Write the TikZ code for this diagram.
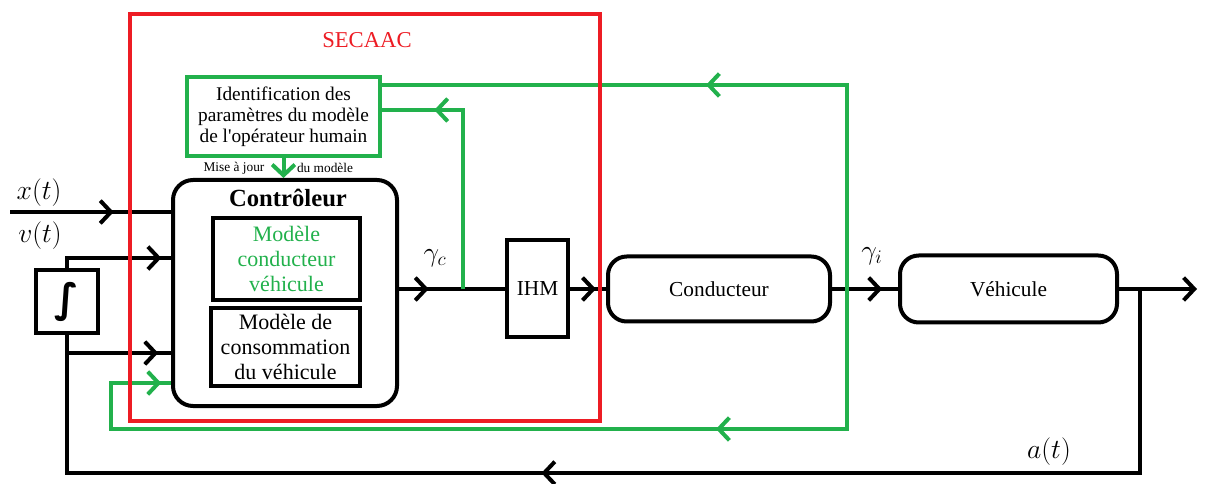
\documentclass[tikz,border=0pt]{standalone}
\usepackage{amsmath, amssymb}
\usepackage{fontspec}
\setmainfont{Liberation Serif}
\newfontfamily\intfont{DejaVu Sans}
\usepackage{xcolor}
\usetikzlibrary{arrows.meta, decorations.markings, positioning}

\definecolor{secred}{RGB}{237,28,36}
\definecolor{idgreen}{RGB}{34,177,76}

\tikzset{
  barb/.tip={Straight Barb[length=8pt,width=17pt]},
  sig/.style={line width=3pt},
  fb/.style={line width=3pt, color=idgreen},
  midarrow/.style={postaction={decorate}, decoration={markings, mark=at position #1 with {\arrow{barb}}}},
  twoarrows/.style 2 args={postaction={decorate}, decoration={markings, mark=at position #1 with {\arrow{barb}}, mark=at position #2 with {\arrow{barb}}}},
  block/.style={draw, line width=3pt, align=center, inner sep=0pt},
  inbox/.style={draw, line width=2.5pt, align=center, inner sep=0pt, font=\fontsize{16.5}{18.5}\selectfont},
  lbl/.style={inner sep=0pt, font=\fontsize{21}{24}\selectfont},
}

\begin{document}
\begin{tikzpicture}[x=0.75pt,y=0.75pt,yscale=-1,xscale=1]
    \useasboundingbox (0,0) rectangle (1206,484);

    %Blocks
    \node[block, draw=idgreen, line width=3.5pt, minimum width=144.75pt, minimum height=59.25pt, font=\fontsize{14.5}{15.8}\selectfont] (ident) at (283.5,116.5) {Identification des\\paramètres du modèle\\de l\textquotesingle opérateur humain};
    \node[block, rounded corners=15pt, minimum width=168pt, minimum height=169.5pt] (ctrl) at (285,293) {};
    \node[block, minimum width=46.5pt, minimum height=47.25pt, font=\intfont\bfseries\fontsize{30}{30}\selectfont] (integ) at (67,301.5) {∫};
    \node[block, minimum width=45.75pt, minimum height=72.75pt, font=\fontsize{16}{18}\selectfont] (ihm) at (537.5,289) {IHM};
    \node[block, rounded corners=14pt, minimum width=166.5pt, minimum height=48.75pt, font=\fontsize{16}{18}\selectfont] (cond) at (719,289) {Conducteur};
    \node[block, rounded corners=14pt, minimum width=162.75pt, minimum height=50.25pt, font=\fontsize{16}{18}\selectfont] (veh) at (1008.5,289) {Véhicule};

    %Inside the controller
    \node[inner sep=0pt, font=\fontsize{18.5}{20}\selectfont\bfseries] (ctrltitle) at (288,198) {Contrôleur};
    \node[inbox, text=idgreen, minimum width=110.25pt, minimum height=61.5pt] (drvmodel) at (286.5,259) {Modèle\\conducteur\\véhicule};
    \node[inbox, minimum width=111.75pt, minimum height=58.5pt] (consmodel) at (285.5,347) {Modèle de\\consommation\\du véhicule};

    %Free ends
    \coordinate (xin) at (10,212);
    \coordinate (yout) at (1197,289);
    \coordinate (atap) at (1140,289);
    \coordinate (abot) at (1140,473);
    \coordinate (gtap) at (847,289);
    \coordinate (gtop) at (847,85);
    \coordinate (gbot) at (847,429);
    \coordinate (gleft) at (111,429);
    \coordinate (gctap) at (463,289);

    %Straight Lines
    \draw[sig, midarrow=0.644] (xin) -- (ctrl.west |- xin);
    \draw[sig, midarrow=0.915] (integ.north) |- (ctrl.west |- 0,258);
    \draw[sig, midarrow=0.877] (integ.south |- 0,353) -- (ctrl.west |- 0,353);
    \draw[sig, midarrow=0.561] (atap) -- (abot) -- (integ.south |- abot) -- (integ.south);
    \draw[sig, midarrow=0.28] (ctrl.east |- 0,289) -- (ihm.west);
    \draw[sig, midarrow=0.72] (ihm.east) -- (cond.west);
    \draw[sig, midarrow=0.76] (cond.east) -- (veh.west);
    \draw[sig, -{barb}] (veh.east) -- (yout);

    %Green feedback
    \draw[fb, -{barb}] (ident.south) -- (ident.south |- ctrl.north);
    \draw[fb, midarrow=0.80] (gctap) |- (ident.east |- 0,110);
    \draw[fb, midarrow=0.516] (gtap) -- (gtop) -- (ident.east |- gtop);
    \draw[fb, twoarrows={0.276}{0.99}] (gtap) -- (gbot) -- (gleft) |- (ctrl.west |- 0,383);

    %SECAAC frame
    \node[draw=secred, line width=3pt, minimum width=352.5pt, minimum height=305.25pt] (secaac) at (365,217.5) {};

    % Text Node
    \node[inner sep=0pt, text=secred, font=\fontsize{17}{20}\selectfont] (secaaclbl) at (367,40) {SECAAC};
    \node[inner sep=0pt, font=\fontsize{10}{12}\selectfont] (majlbl) at (234,168) {Mise à jour};
    \node[inner sep=0pt, font=\fontsize{10}{12}\selectfont] (modlbl) at (325,168) {du modèle};
    \node[lbl] (xlbl) at (39,193) {$x(t)$};
    \node[lbl] (vlbl) at (40,236) {$v(t)$};
    \node[lbl] (albl) at (1049,452) {$a(t)$};
    \node[lbl] (gclbl) at (435,258) {$\gamma_c$};
    \node[lbl] (gilbl) at (872,256) {$\gamma_i$};
\end{tikzpicture}
\end{document}
